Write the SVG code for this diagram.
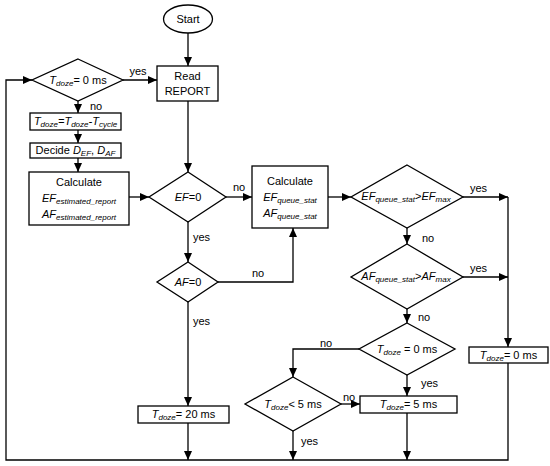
<svg xmlns="http://www.w3.org/2000/svg" width="550" height="466" viewBox="0 0 550 466">
<defs>
<marker id="ah" markerWidth="9" markerHeight="8" refX="9" refY="4" orient="auto" markerUnits="userSpaceOnUse">
<path d="M0,0 L9,4 L0,8 Z" fill="#000"/>
</marker>
<style>
.s{fill:#fff;stroke:#000;stroke-width:1.3}
.c{fill:none;stroke:#000;stroke-width:1.3}
.a{marker-end:url(#ah)}
text{font-family:"Liberation Sans",Arial,sans-serif;font-size:11px;fill:#000}
.m{text-anchor:middle}
.i{font-style:italic}
.sb{font-size:8px;font-style:italic}
</style>
</defs>
<rect width="550" height="466" fill="#fff"/>
<g id="connectors">
<line class="c a" x1="188" y1="33" x2="188" y2="66"/>
<line class="c a" x1="188" y1="101" x2="188" y2="172"/>
<line class="c a" x1="123" y1="80" x2="157" y2="80"/>
<line class="c a" x1="78" y1="101" x2="78" y2="113"/>
<line class="c a" x1="78" y1="130" x2="78" y2="143"/>
<line class="c a" x1="78" y1="158" x2="78" y2="172"/>
<line class="c a" x1="129" y1="197" x2="149" y2="197"/>
<line class="c a" x1="226" y1="197" x2="252" y2="197"/>
<line class="c a" x1="188" y1="222" x2="188" y2="262"/>
<polyline class="c a" points="218,282 293,282 293,228"/>
<line class="c a" x1="188" y1="302" x2="188" y2="406"/>
<line class="c a" x1="188" y1="423" x2="188" y2="460"/>
<line class="c a" x1="328" y1="197" x2="351" y2="197"/>
<line class="c a" x1="463" y1="197" x2="508" y2="197"/>
<line class="c a" x1="508" y1="197" x2="508" y2="347"/>
<line class="c a" x1="407" y1="228" x2="407" y2="244"/>
<line class="c a" x1="463" y1="277" x2="508" y2="277"/>
<line class="c a" x1="407" y1="309" x2="407" y2="323"/>
<polyline class="c a" points="359,349 293,349 293,377"/>
<line class="c a" x1="407" y1="375" x2="407" y2="396"/>
<line class="c a" x1="341" y1="404" x2="360" y2="404"/>
<line class="c a" x1="293" y1="431" x2="293" y2="460"/>
<line class="c a" x1="407" y1="413" x2="407" y2="460"/>
<polyline class="c a" points="508,363 508,460 6,460 6,80 32,80"/>
<text x="138" y="75" class="m">yes</text>
<text x="90" y="110">no</text>
<text x="233" y="191">no</text>
<text x="193" y="241">yes</text>
<text x="252" y="277">no</text>
<text x="193" y="325">yes</text>
<text x="470" y="192">yes</text>
<text x="422" y="242">no</text>
<text x="470" y="272">yes</text>
<text x="418" y="321">no</text>
<text x="320" y="347">no</text>
<text x="421" y="387">yes</text>
<text x="343" y="401">no</text>
<text x="301" y="445">yes</text>
</g>
<g id="start">
<ellipse class="s" cx="188" cy="19" rx="24.5" ry="14"/>
<text x="188" y="23" class="m">Start</text>
</g>
<g id="read-report">
<rect class="s" x="157" y="66" width="61" height="35"/>
<text x="187.5" y="80" class="m">Read</text>
<text x="187.5" y="95" class="m">REPORT</text>
</g>
<g id="tdoze-check">
<polygon class="s" points="78,59 123,80 78,101 32,80"/>
<text x="78" y="84" class="m"><tspan class="i">T</tspan><tspan class="sb" dy="2">doze</tspan><tspan dy="-2">= 0 ms</tspan></text>
</g>
<g id="tdoze-update">
<rect class="s" x="30" y="113" width="91" height="17"/>
<text x="75.5" y="125" class="m"><tspan class="i">T</tspan><tspan class="sb" dy="2">doze</tspan><tspan class="i" dy="-2">=T</tspan><tspan class="sb" dy="2">doze</tspan><tspan class="i" dy="-2">-T</tspan><tspan class="sb" dy="2">cycle</tspan></text>
</g>
<g id="decide">
<rect class="s" x="30" y="143" width="91" height="15"/>
<text x="75.5" y="154" class="m">Decide <tspan class="i">D</tspan><tspan class="sb" dy="2">EF</tspan><tspan dy="-2">, </tspan><tspan class="i">D</tspan><tspan class="sb" dy="2">AF</tspan></text>
</g>
<g id="calc-estimated">
<rect class="s" x="29" y="172" width="100" height="53"/>
<text x="79" y="186" class="m">Calculate</text>
<text x="79" y="202" class="m"><tspan class="i">EF</tspan><tspan class="sb" dy="2">estimated_report</tspan></text>
<text x="79" y="218" class="m"><tspan class="i">AF</tspan><tspan class="sb" dy="2">estimated_report</tspan></text>
</g>
<g id="ef-zero">
<polygon class="s" points="188,172 226,197 188,222 149,197"/>
<text x="188" y="201" class="m i">EF<tspan font-style="normal">=0</tspan></text>
</g>
<g id="calc-queue">
<rect class="s" x="252" y="166" width="76" height="62"/>
<text x="290" y="185" class="m">Calculate</text>
<text x="290" y="201" class="m"><tspan class="i">EF</tspan><tspan class="sb" dy="2">queue_stat</tspan></text>
<text x="290" y="217" class="m"><tspan class="i">AF</tspan><tspan class="sb" dy="2">queue_stat</tspan></text>
</g>
<g id="af-zero">
<polygon class="s" points="188,262 218,282 188,302 157,282"/>
<text x="188" y="286" class="m i">AF<tspan font-style="normal">=0</tspan></text>
</g>
<g id="tdoze-20">
<rect class="s" x="138" y="406" width="91" height="17"/>
<text x="183.5" y="418" class="m"><tspan class="i">T</tspan><tspan class="sb" dy="2">doze</tspan><tspan dy="-2">= 20 ms</tspan></text>
</g>
<g id="ef-max">
<polygon class="s" points="407,165 463,197 407,228 351,197"/>
<text x="406" y="200" class="m"><tspan class="i">EF</tspan><tspan class="sb" dy="2">queue_stat</tspan><tspan dy="-2">&gt;</tspan><tspan class="i">EF</tspan><tspan class="sb" dy="2">max</tspan></text>
</g>
<g id="af-max">
<polygon class="s" points="407,244 463,277 407,309 351,277"/>
<text x="406" y="280" class="m"><tspan class="i">AF</tspan><tspan class="sb" dy="2">queue_stat</tspan><tspan dy="-2">&gt;</tspan><tspan class="i">AF</tspan><tspan class="sb" dy="2">max</tspan></text>
</g>
<g id="tdoze-zero-check">
<polygon class="s" points="407,323 455,349 407,375 359,349"/>
<text x="407" y="353" class="m"><tspan class="i">T</tspan><tspan class="sb" dy="2">doze</tspan><tspan dy="-2"> = 0 ms</tspan></text>
</g>
<g id="tdoze-lt5">
<polygon class="s" points="293,377 341,404 293,431 245,404"/>
<text x="293" y="408" class="m"><tspan class="i">T</tspan><tspan class="sb" dy="2">doze</tspan><tspan dy="-2">&lt; 5 ms</tspan></text>
</g>
<g id="tdoze-5">
<rect class="s" x="360" y="396" width="97" height="17"/>
<text x="408.5" y="408" class="m"><tspan class="i">T</tspan><tspan class="sb" dy="2">doze</tspan><tspan dy="-2">= 5 ms</tspan></text>
</g>
<g id="tdoze-0">
<rect class="s" x="469" y="347" width="79" height="16"/>
<text x="508.5" y="359" class="m"><tspan class="i">T</tspan><tspan class="sb" dy="2">doze</tspan><tspan dy="-2">= 0 ms</tspan></text>
</g>
</svg>
